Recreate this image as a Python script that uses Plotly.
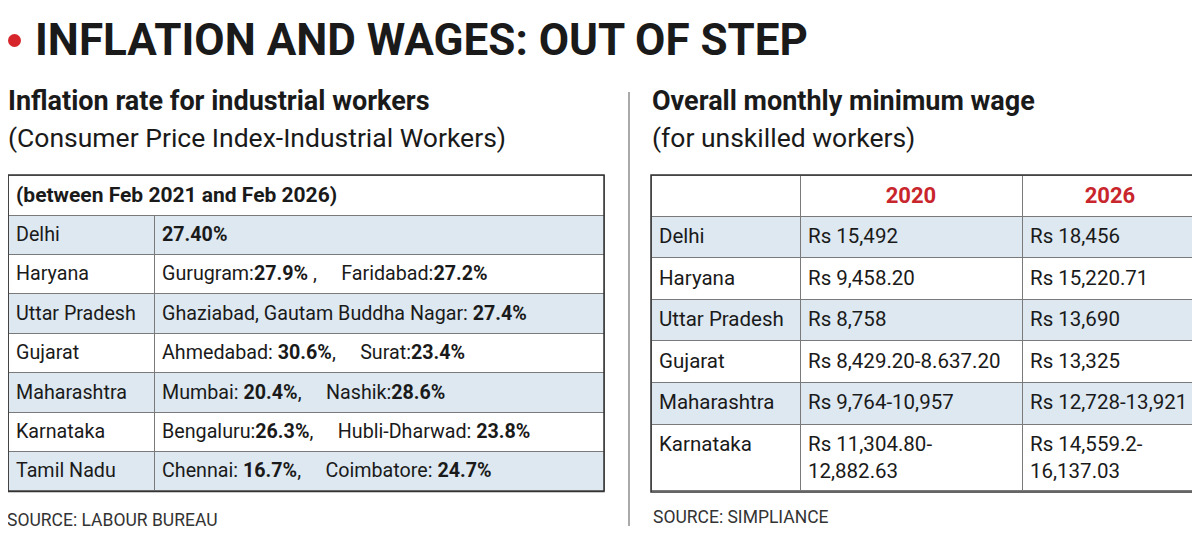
import plotly.graph_objects as go

# ---- data ----
inflation_states = ["Delhi", "Haryana", "Uttar Pradesh", "Gujarat", "Maharashtra", "Karnataka", "Tamil Nadu"]
inflation_period = "(between Feb 2021 and Feb 2026)"
city_a = ["", "Gurugram:", "Ghaziabad, Gautam Buddha Nagar: ", "Ahmedabad: ", "Mumbai: ", "Bengaluru:", "Chennai: "]
rate_a = ["27.40%", "27.9%", "27.4%", "30.6%", "20.4%", "26.3%", "16.7%"]
sep_a = ["", " ,", "", ",", ",", ",", ","]
city_b = ["", "Faridabad:", "", "Surat:", "Nashik:", "Hubli-Dharwad: ", "Coimbatore: "]
rate_b = ["", "27.2%", "", "23.4%", "28.6%", "23.8%", "24.7%"]

wage_states = ["Delhi", "Haryana", "Uttar Pradesh", "Gujarat", "Maharashtra", "Karnataka"]
wage_years = ["2020", "2026"]
wage_2020 = ["Rs 15,492", "Rs 9,458.20", "Rs 8,758", "Rs 8,429.20-8.637.20", "Rs 9,764-10,957",
             "Rs 11,304.80-<br>12,882.63"]
wage_2026 = ["Rs 18,456", "Rs 15,220.71", "Rs 13,690", "Rs 13,325", "Rs 12,728-13,921",
             "Rs 14,559.2-<br>16,137.03"]

W, H = 1200, 539
OFF = 8            # the page body margin shifts the figure by 8px
EMPTY_HEAD = 16    # plotly draws a 16px row for a table without header
FONT = "Roboto"
INK = "#1a1a1a"
BLUE = "#dde8f1"
RED = "#c8262c"
GRID = "#7a7a7a"
NB = "\u00a0"

LEFT_X = (8, 604)
RIGHT_X = (651, 1198)


def px(x):
    return (x - OFF) / W


def py(y):
    return 1 - (y - OFF) / H


def stripes(n):
    return [BLUE if i % 2 == 0 else "white" for i in range(n)]


def cell(s):
    # span keeps every cell on the same text path, nbsp stops the wrapping
    return "<span>" + s.replace(" ", NB) + "</span>"


# build the rate cells
rate_cells = []
for i in range(len(inflation_states)):
    txt = city_a[i] + "<b>" + rate_a[i] + "</b>" + sep_a[i]
    if city_b[i]:
        txt += NB * 5 + city_b[i] + "<b>" + rate_b[i] + "</b>"
    rate_cells.append(cell(txt))

no_head = dict(fill_color="white", line=dict(color="white", width=0))

fig = go.Figure()

# left table: body rows
fig.add_trace(go.Table(
    domain=dict(x=[px(LEFT_X[0]), px(LEFT_X[1])], y=[py(535), py(215 - EMPTY_HEAD)]),
    columnwidth=[146, 450],
    header=no_head,
    cells=dict(values=[[cell(s) for s in inflation_states], rate_cells], height=39.4, align="left",
               fill_color=[stripes(7), stripes(7)],
               line=dict(color=GRID, width=1),
               font=dict(family=FONT, size=19.7, color=INK)),
))

# left table: spanning first row
fig.add_trace(go.Table(
    domain=dict(x=[px(LEFT_X[0]), px(LEFT_X[1])], y=[py(260), py(175 - EMPTY_HEAD)]),
    columnwidth=[1],
    header=no_head,
    cells=dict(values=[[cell("<b>" + inflation_period + "</b>")]], height=40, align="left",
               fill_color="white", line=dict(color=GRID, width=1),
               font=dict(family=FONT, size=21, color=INK)),
))

# right table
fig.add_trace(go.Table(
    domain=dict(x=[px(RIGHT_X[0]), px(RIGHT_X[1])], y=[py(535), py(175)]),
    columnwidth=[149, 222, 176],
    header=dict(values=[""] + ["<b>" + y + "</b>" for y in wage_years], height=41, align="center",
                fill_color="white", line=dict(color=GRID, width=1),
                font=dict(family=FONT, size=22, color=RED)),
    cells=dict(values=[[cell(s) for s in wage_states], [cell(s) for s in wage_2020],
                       [cell(s) for s in wage_2026]],
               height=41.6, align="left",
               fill_color=[stripes(6)] * 3,
               line=dict(color=GRID, width=1),
               font=dict(family=FONT, size=20.5, color=INK)),
))

shapes = [
    dict(type="circle", xref="paper", yref="paper", x0=px(8), x1=px(21), y0=py(47), y1=py(34),
         fillcolor="#d7262b", line=dict(width=0)),
    dict(type="line", xref="paper", yref="paper", x0=px(629), x1=px(629), y0=py(92), y1=py(526),
         line=dict(color="#aaaaaa", width=2)),
    dict(type="rect", xref="paper", yref="paper", x0=px(LEFT_X[0]), x1=px(LEFT_X[1]), y0=py(491.5), y1=py(175),
         line=dict(color="#333333", width=1.5)),
    dict(type="rect", xref="paper", yref="paper", x0=px(RIGHT_X[0]), x1=px(RIGHT_X[1]), y0=py(492), y1=py(175),
         line=dict(color="#333333", width=1.5)),
]

annotations = [
    dict(text="<b>INFLATION AND WAGES: OUT OF STEP</b>", x=px(33), y=py(40), font=dict(size=44)),
    dict(text="<b>Inflation rate for industrial workers</b>", x=px(6), y=py(101), font=dict(size=27)),
    dict(text="(Consumer Price Index-Industrial Workers)", x=px(6), y=py(137), font=dict(size=26.5)),
    dict(text="<b>Overall monthly minimum wage</b>", x=px(650), y=py(101), font=dict(size=27)),
    dict(text="(for unskilled workers)", x=px(650), y=py(137), font=dict(size=26.5)),
    dict(text="SOURCE: LABOUR BUREAU", x=px(5), y=py(520), font=dict(size=17.5, color="#333333")),
    dict(text="SOURCE: SIMPLIANCE", x=px(651), y=py(517), font=dict(size=17.5, color="#333333")),
]
for a in annotations:
    a.update(xref="paper", yref="paper", xanchor="left", yanchor="middle", showarrow=False)
    a["font"].setdefault("color", INK)
    a["font"]["family"] = FONT

fig.update_layout(
    template="none",
    width=W, height=H,
    margin=dict(l=0, r=0, t=0, b=0),
    paper_bgcolor="white",
    shapes=shapes,
    annotations=annotations,
)

fig.write_html("out.html")
